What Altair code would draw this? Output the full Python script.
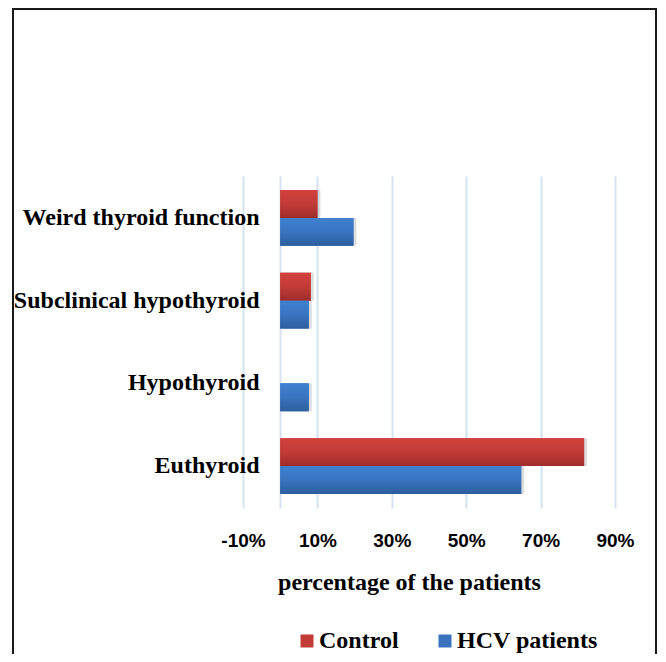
import altair as alt
import pandas as pd

categories = ["Weird thyroid function", "Subclinical hypothyroid", "Hypothyroid", "Euthyroid"]
series_names = ["Control", "HCV patients"]
control_values = [10.0, 8.2, 0.0, 81.7]
hcv_values = [19.7, 7.7, 7.7, 64.8]
tick_values = [-10, 0, 10, 30, 50, 70, 90]

rows = []
for c, v in zip(categories, control_values):
    rows.append({"category": c, "series": "Control", "value": v})
for c, v in zip(categories, hcv_values):
    rows.append({"category": c, "series": "HCV patients", "value": v})
df = pd.DataFrame(rows)

serif = "Liberation Serif"
sans = "Liberation Sans"

x_enc = alt.X(
    "value:Q",
    scale=alt.Scale(domain=[-10, 90], nice=False, zero=False),
    axis=alt.Axis(
        values=tick_values,
        labelExpr="datum.value == 0 ? '' : datum.value + '%'",
        labelFont=sans, labelFontWeight="bold", labelFontSize=19, labelColor="black",
        labelPadding=23, labelFlush=False, ticks=False, domain=False,
        grid=True, gridColor="#D5E2F2", gridWidth=2,
        title="percentage of the patients", titleFont=serif, titleFontWeight="bold",
        titleFontSize=24, titleColor="black", titleX=166, titleY=81,
        titleAlign="center", titleBaseline="alphabetic", titleAnchor="start",
    ),
)
y_enc = alt.Y(
    "category:N", sort=categories,
    scale=alt.Scale(paddingInner=0.325, paddingOuter=0.17),
    axis=alt.Axis(
        title=None, labelFont=serif, labelFontWeight="bold", labelFontSize=24,
        labelColor="black", ticks=False, domain=False, labelPadding=-16,
        labelLimit=0, grid=False,
    ),
)
yoff_enc = alt.YOffset("series:N", sort=series_names,
                       scale=alt.Scale(paddingInner=0, paddingOuter=0))

base = alt.Chart(df).encode(x=x_enc, y=y_enc, yOffset=yoff_enc)

shadow = base.transform_filter(alt.datum.value > 0).mark_bar(
    color="#000000", opacity=0.13, xOffset=3, yOffset=3
)

solid = base.mark_bar().encode(
    color=alt.Color(
        "series:N", sort=series_names,
        scale=alt.Scale(domain=series_names, range=["#C23B37", "#3A72BE"]),
        legend=alt.Legend(
            orient="none", legendX=48, legendY=453, direction="horizontal",
            title=None, symbolType="square", symbolSize=169, symbolStrokeWidth=0,
            symbolOffset=4,
            labelFont=serif, labelFontWeight="bold", labelFontSize=24,
            labelColor="black", labelOffset=0, columnPadding=30, padding=0,
        ),
    )
)

red_grad = alt.Gradient(
    gradient="linear", x1=0, x2=0, y1=0, y2=1,
    stops=[alt.GradientStop(color="#D2423E", offset=0),
           alt.GradientStop(color="#C23B37", offset=0.5),
           alt.GradientStop(color="#9E2D2B", offset=1)],
)
blue_grad = alt.Gradient(
    gradient="linear", x1=0, x2=0, y1=0, y2=1,
    stops=[alt.GradientStop(color="#3F81D0", offset=0),
           alt.GradientStop(color="#3A74C0", offset=0.5),
           alt.GradientStop(color="#2D5E9C", offset=1)],
)

red_bars = base.transform_filter(alt.datum.series == "Control").mark_bar(fill=red_grad)
blue_bars = base.transform_filter(alt.datum.series == "HCV patients").mark_bar(fill=blue_grad)

frame = alt.Chart(pd.DataFrame({"k": [0]})).mark_rect(
    fill=None, stroke="#1a1a1a", strokeWidth=2
).encode(
    x=alt.value(-230), x2=alt.value(413), y=alt.value(-167), y2=alt.value(520)
)

chart = alt.layer(shadow, solid, red_bars, blue_bars, frame).properties(
    width=372, height=332,
    padding={"left": 235, "top": 168, "right": 43, "bottom": 146},
    autosize=alt.AutoSizeParams(type="none"),
    background="white",
).configure_view(stroke=None)

chart.save("out.html", embed_options={"renderer": "svg", "actions": False})
